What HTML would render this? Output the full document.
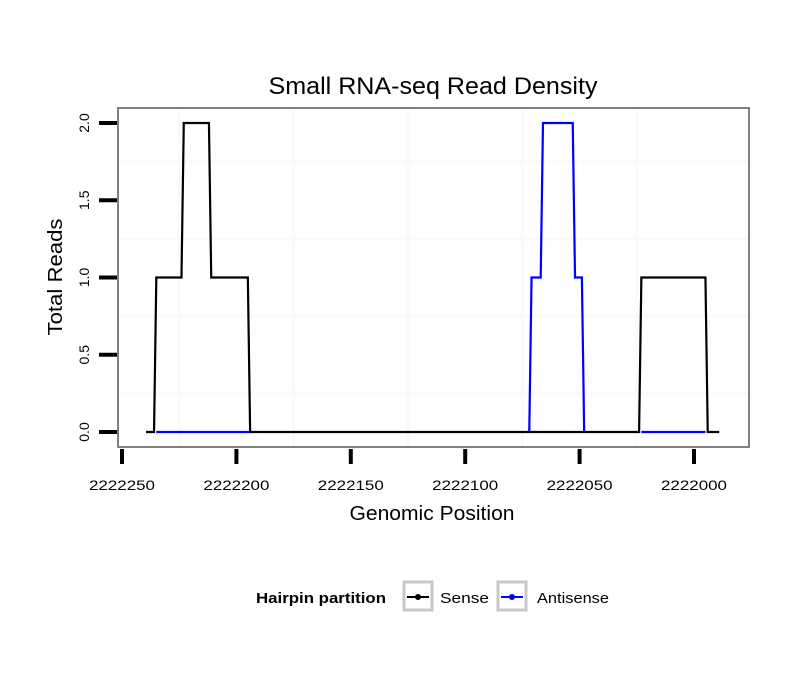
<!DOCTYPE html>
<html><head><meta charset="utf-8"><style>
body{margin:0;background:#fff}
svg text{font-family:"Liberation Sans",sans-serif}
</style></head><body>
<svg id="c" width="810" height="690" xmlns="http://www.w3.org/2000/svg">
<rect width="810" height="690" fill="#fff"/>
<text x="433" y="94" font-size="24.5" text-anchor="middle" textLength="329" lengthAdjust="spacingAndGlyphs">Small RNA-seq Read Density</text>
<rect x="118" y="108" width="631" height="339" fill="#fff"/>
<g id="grid"></g>
<g id="series"></g>
<rect x="118" y="108" width="631" height="339" fill="none" stroke="#808080" stroke-width="2"/>
<g id="axes"></g>
<text x="432" y="520" font-size="20" text-anchor="middle" textLength="165" lengthAdjust="spacingAndGlyphs">Genomic Position</text>
<text transform="translate(62,277) rotate(-90)" font-size="20" text-anchor="middle" textLength="117" lengthAdjust="spacingAndGlyphs">Total Reads</text>
<g>
<text x="256" y="603" font-size="15" font-weight="bold" textLength="130" lengthAdjust="spacingAndGlyphs">Hairpin partition</text>
<g>
<rect x="404" y="582" width="28" height="28" fill="#fff" stroke="#c8c8c8" stroke-width="3"/>
<line x1="407" y1="597" x2="429" y2="597" stroke="#000" stroke-width="2"/>
<circle cx="418" cy="597" r="3" fill="#000"/>
<text x="440" y="603" font-size="15" textLength="49" lengthAdjust="spacingAndGlyphs">Sense</text></g>
<g>
<rect x="498" y="582" width="28" height="28" fill="#fff" stroke="#c8c8c8" stroke-width="3"/>
<line x1="501" y1="597" x2="523" y2="597" stroke="#0000ff" stroke-width="2"/>
<circle cx="512" cy="597" r="3" fill="#0000ff"/>
<text x="537" y="603" font-size="15" textLength="72" lengthAdjust="spacingAndGlyphs">Antisense</text></g>
</g>
</svg>
<script>
const senseX=[2222239.5,2222236,2222235,2222224,2222223,2222212,2222211,2222195,2222194,2222024,2222023,2221995,2221994,2221989];
const senseY=[0,0,1,1,2,2,1,1,0,0,1,1,0,0];
const antiX=[2222235,2222194,null,2222072,2222071,2222067,2222066,2222053,2222052,2222049,2222048,null,2222023,2221995];
const antiY=[0,0,null,0,1,1,2,2,1,1,0,null,0,0];
const xTicks=[2222250,2222200,2222150,2222100,2222050,2222000];
const xMinor=[2222225,2222175,2222125,2222075,2222025];
const yTicks=[0,0.5,1,1.5,2];
const yMinor=[0.25,0.75,1.25,1.75];
const NS="http://www.w3.org/2000/svg";
function sx(v){return 122+(2222250-v)*572/250;}
function sy(v){return 432-v*154.5;}
function mk(t,a,p){const e=document.createElementNS(NS,t);for(const k in a)e.setAttribute(k,a[k]);p.appendChild(e);return e;}
const grid=document.getElementById('grid'),ser=document.getElementById('series'),ax=document.getElementById('axes');
xMinor.forEach(v=>{const l=mk('line',{x1:sx(v),x2:sx(v),y1:109,y2:446,stroke:'#fafafa','stroke-width':3},grid);

});
yMinor.forEach(v=>{const l=mk('line',{x1:119,x2:748,y1:sy(v),y2:sy(v),stroke:'#fafafa','stroke-width':3},grid);

});
function path(xs,ys,color,name){let d='',pen=false;
for(let i=0;i<xs.length;i++){if(xs[i]===null){pen=false;continue;}d+=(pen?'L':'M')+sx(xs[i])+' '+sy(ys[i])+' ';pen=true;}
const p=mk('path',{d:d,fill:'none',stroke:color,'stroke-width':2.2,'stroke-linejoin':'miter'},ser);

}
path(senseX,senseY,'#000','sense-line');
path(antiX,antiY,'#0000ff','antisense-line');
xTicks.forEach(v=>{const l=mk('line',{x1:sx(v),x2:sx(v),y1:449,y2:464,stroke:'#000','stroke-width':4},ax);


const t=mk('text',{x:sx(v),y:490,'font-size':14,'text-anchor':'middle',textLength:66,lengthAdjust:'spacingAndGlyphs'},ax);t.textContent=v;

});
yTicks.forEach(v=>{const l=mk('line',{x1:99,x2:117,y1:sy(v),y2:sy(v),stroke:'#000','stroke-width':4},ax);


const t=mk('text',{transform:'translate(89,'+sy(v)+') rotate(-90)','font-size':14,'text-anchor':'middle'},ax);t.textContent=v.toFixed(1);

});
</script>
</body></html>
